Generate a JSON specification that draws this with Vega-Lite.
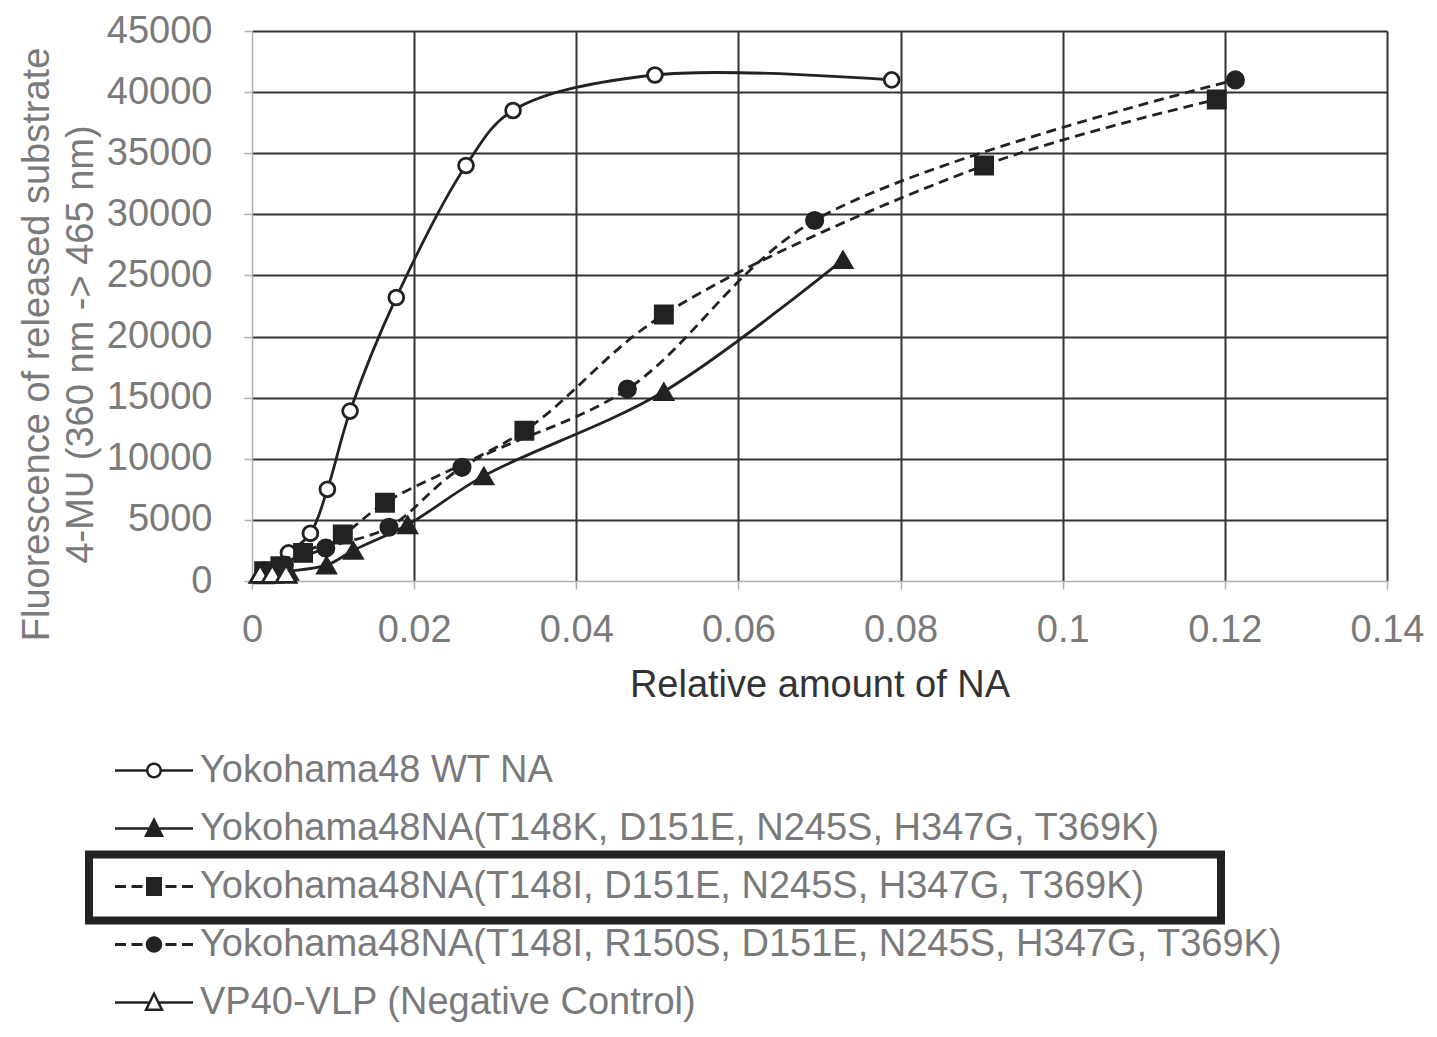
{
  "$schema": "https://vega.github.io/schema/vega-lite/v6.json",
  "width": 1135,
  "height": 550,
  "autosize": "none",
  "padding": {"left": 252, "top": 31, "right": 50, "bottom": 456},
  "background": "white",
  "config": {
    "view": {"stroke": null},
    "font": "Liberation Sans"
  },
  "data": {
    "values": [
      {"series": "Yokohama48 WT NA", "x": 0.0015, "y": 900},
      {"series": "Yokohama48 WT NA", "x": 0.0045, "y": 2300},
      {"series": "Yokohama48 WT NA", "x": 0.0072, "y": 3900},
      {"series": "Yokohama48 WT NA", "x": 0.0093, "y": 7500},
      {"series": "Yokohama48 WT NA", "x": 0.0121, "y": 13900},
      {"series": "Yokohama48 WT NA", "x": 0.0178, "y": 23200},
      {"series": "Yokohama48 WT NA", "x": 0.0264, "y": 34000},
      {"series": "Yokohama48 WT NA", "x": 0.0322, "y": 38500},
      {"series": "Yokohama48 WT NA", "x": 0.0497, "y": 41400},
      {"series": "Yokohama48 WT NA", "x": 0.0789, "y": 41000},

      {"series": "Yokohama48NA(T148K, D151E, N245S, H347G, T369K)", "x": 0.0015, "y": 500},
      {"series": "Yokohama48NA(T148K, D151E, N245S, H347G, T369K)", "x": 0.0045, "y": 800},
      {"series": "Yokohama48NA(T148K, D151E, N245S, H347G, T369K)", "x": 0.0092, "y": 1300},
      {"series": "Yokohama48NA(T148K, D151E, N245S, H347G, T369K)", "x": 0.0125, "y": 2500},
      {"series": "Yokohama48NA(T148K, D151E, N245S, H347G, T369K)", "x": 0.0192, "y": 4600},
      {"series": "Yokohama48NA(T148K, D151E, N245S, H347G, T369K)", "x": 0.0286, "y": 8600},
      {"series": "Yokohama48NA(T148K, D151E, N245S, H347G, T369K)", "x": 0.0508, "y": 15500},
      {"series": "Yokohama48NA(T148K, D151E, N245S, H347G, T369K)", "x": 0.0729, "y": 26300},

      {"series": "Yokohama48NA(T148I, D151E, N245S, H347G, T369K)", "x": 0.0015, "y": 800},
      {"series": "Yokohama48NA(T148I, D151E, N245S, H347G, T369K)", "x": 0.0035, "y": 1200},
      {"series": "Yokohama48NA(T148I, D151E, N245S, H347G, T369K)", "x": 0.0063, "y": 2300},
      {"series": "Yokohama48NA(T148I, D151E, N245S, H347G, T369K)", "x": 0.0112, "y": 3800},
      {"series": "Yokohama48NA(T148I, D151E, N245S, H347G, T369K)", "x": 0.0164, "y": 6400},
      {"series": "Yokohama48NA(T148I, D151E, N245S, H347G, T369K)", "x": 0.0336, "y": 12300},
      {"series": "Yokohama48NA(T148I, D151E, N245S, H347G, T369K)", "x": 0.0508, "y": 21800},
      {"series": "Yokohama48NA(T148I, D151E, N245S, H347G, T369K)", "x": 0.0903, "y": 34000},
      {"series": "Yokohama48NA(T148I, D151E, N245S, H347G, T369K)", "x": 0.119, "y": 39400},

      {"series": "Yokohama48NA(T148I, R150S, D151E, N245S, H347G, T369K)", "x": 0.0015, "y": 700},
      {"series": "Yokohama48NA(T148I, R150S, D151E, N245S, H347G, T369K)", "x": 0.004, "y": 1300},
      {"series": "Yokohama48NA(T148I, R150S, D151E, N245S, H347G, T369K)", "x": 0.0091, "y": 2700},
      {"series": "Yokohama48NA(T148I, R150S, D151E, N245S, H347G, T369K)", "x": 0.0169, "y": 4400},
      {"series": "Yokohama48NA(T148I, R150S, D151E, N245S, H347G, T369K)", "x": 0.0259, "y": 9300},
      {"series": "Yokohama48NA(T148I, R150S, D151E, N245S, H347G, T369K)", "x": 0.0463, "y": 15700},
      {"series": "Yokohama48NA(T148I, R150S, D151E, N245S, H347G, T369K)", "x": 0.0694, "y": 29500},
      {"series": "Yokohama48NA(T148I, R150S, D151E, N245S, H347G, T369K)", "x": 0.1213, "y": 41000},

      {"series": "VP40-VLP (Negative Control)", "x": 0.001, "y": 600},
      {"series": "VP40-VLP (Negative Control)", "x": 0.0025, "y": 600},
      {"series": "VP40-VLP (Negative Control)", "x": 0.0042, "y": 600}
    ]
  },
  "encoding": {
    "x": {
      "field": "x",
      "type": "quantitative",
      "scale": {"domain": [0, 0.14], "nice": false},
      "axis": {
        "title": "Relative amount of NA",
        "values": [0, 0.02, 0.04, 0.06, 0.08, 0.1, 0.12, 0.14],
        "format": "~g",
        "labelFont": "Liberation Sans",
        "labelFontSize": 38,
        "labelColor": "#7a7a7a",
        "labelPadding": 22,
        "labelFlush": false,
        "labelOverlap": false,
        "titleFont": "Liberation Sans",
        "titleFontSize": 38,
        "titleFontWeight": "normal",
        "titleColor": "#333333",
        "titlePadding": 17,
        "domainColor": "#b0b0b0",
        "domainWidth": 1.5,
        "tickColor": "#b0b0b0",
        "tickSize": 8,
        "tickWidth": 1.5,
        "grid": true,
        "gridColor": {"condition": {"test": "datum.value === 0", "value": "transparent"}, "value": "#333333"},
        "gridWidth": 2,
        "gridOpacity": 1
      }
    },
    "y": {
      "field": "y",
      "type": "quantitative",
      "scale": {"domain": [0, 45000], "nice": false},
      "axis": {
        "title": ["Fluorescence of released substrate", "4-MU (360 nm -> 465 nm)"],
        "values": [0, 5000, 10000, 15000, 20000, 25000, 30000, 35000, 40000, 45000],
        "format": "d",
        "labelFont": "Liberation Sans",
        "labelFontSize": 38,
        "labelColor": "#7a7a7a",
        "labelPadding": 32,
        "labelFlush": false,
        "labelOverlap": false,
        "titleFont": "Liberation Sans",
        "titleFontSize": 38,
        "titleFontWeight": "normal",
        "titleColor": "#7a7a7a",
        "titleLineHeight": 44,
        "titlePadding": 6,
        "titleY": 313,
        "domainColor": "#b0b0b0",
        "domainWidth": 1.5,
        "tickColor": "#b0b0b0",
        "tickSize": 8,
        "tickWidth": 1.5,
        "grid": true,
        "gridColor": {"condition": {"test": "datum.value === 0", "value": "transparent"}, "value": "#333333"},
        "gridWidth": 2,
        "gridOpacity": 1
      }
    }
  },
  "layer": [
    {
      "transform": [{"filter": {"field": "series", "oneOf": ["Yokohama48 WT NA", "Yokohama48NA(T148K, D151E, N245S, H347G, T369K)", "VP40-VLP (Negative Control)"]}}],
      "mark": {"type": "line", "interpolate": "catmull-rom", "strokeWidth": 2.8, "color": "#222222"},
      "encoding": {"detail": {"field": "series", "type": "nominal"}}
    },
    {
      "transform": [{"filter": {"field": "series", "oneOf": ["Yokohama48NA(T148I, D151E, N245S, H347G, T369K)", "Yokohama48NA(T148I, R150S, D151E, N245S, H347G, T369K)"]}}],
      "mark": {"type": "line", "interpolate": "catmull-rom", "strokeWidth": 2.8, "color": "#222222", "strokeDash": [10, 6]},
      "encoding": {"detail": {"field": "series", "type": "nominal"}}
    },
    {
      "transform": [{"filter": {"field": "series", "equal": "Yokohama48 WT NA"}}],
      "mark": {"type": "point", "shape": "circle", "size": 220, "filled": true, "fill": "#ffffff", "stroke": "#222222", "strokeWidth": 2.8, "opacity": 1}
    },
    {
      "transform": [{"filter": {"field": "series", "equal": "Yokohama48NA(T148K, D151E, N245S, H347G, T369K)"}}],
      "mark": {"type": "point", "shape": "triangle-up", "size": 400, "filled": true, "fill": "#222222", "stroke": "#222222", "strokeWidth": 1.5, "opacity": 1}
    },
    {
      "transform": [{"filter": {"field": "series", "equal": "Yokohama48NA(T148I, D151E, N245S, H347G, T369K)"}}],
      "mark": {"type": "point", "shape": "square", "size": 340, "filled": true, "fill": "#222222", "stroke": "#222222", "strokeWidth": 1.5, "opacity": 1}
    },
    {
      "transform": [{"filter": {"field": "series", "equal": "Yokohama48NA(T148I, R150S, D151E, N245S, H347G, T369K)"}}],
      "mark": {"type": "point", "shape": "circle", "size": 310, "filled": true, "fill": "#222222", "stroke": "#222222", "strokeWidth": 1.5, "opacity": 1}
    },
    {
      "transform": [{"filter": {"field": "series", "equal": "VP40-VLP (Negative Control)"}}],
      "mark": {"type": "point", "shape": "triangle-up", "size": 400, "filled": true, "fill": "#ffffff", "stroke": "#222222", "strokeWidth": 2.8, "opacity": 1}
    },
    {
      "mark": {"type": "point", "filled": true, "fill": "#222222", "opacity": 0},
      "encoding": {
        "shape": {
          "field": "series",
          "type": "nominal",
          "scale": {
            "domain": [
              "Yokohama48 WT NA",
              "Yokohama48NA(T148K, D151E, N245S, H347G, T369K)",
              "Yokohama48NA(T148I, D151E, N245S, H347G, T369K)",
              "Yokohama48NA(T148I, R150S, D151E, N245S, H347G, T369K)",
              "VP40-VLP (Negative Control)"
            ],
            "range": [
              "M0,-1.8M0,1.9M-1.95,-0.0625H-0.375V0.0625H-1.95ZM0.375,-0.0625H1.95V0.0625H0.375ZM0.4,0A0.4,0.4,0,1,1,-0.4,0A0.4,0.4,0,1,1,0.4,0ZM0.275,0A0.275,0.275,0,1,0,-0.275,0A0.275,0.275,0,1,0,0.275,0Z",
              "M0,-1.8M0,1.9M-1.95,-0.0625H1.95V0.0625H-1.95ZM0,-0.575L0.5,0.425L-0.5,0.425Z",
              "M-3.45,-1.8H53.55V1.9H-3.45ZM-3.05,-1.4V1.5H53.15V-1.4ZM-1.95,-0.075H-1.4V0.075H-1.95ZM-1.125,-0.075H-0.575V0.075H-1.125ZM0.575,-0.075H1.125V0.075H0.575ZM1.4,-0.075H1.95V0.075H1.4ZM-0.4,-0.475H0.4V0.475H-0.4Z",
              "M0,-1.8M0,1.9M-1.95,-0.075H-1.4V0.075H-1.95ZM-1.125,-0.075H-0.575V0.075H-1.125ZM0.575,-0.075H1.125V0.075H0.575ZM1.4,-0.075H1.95V0.075H1.4ZM0.4125,0A0.4125,0.4125,0,1,1,-0.4125,0A0.4125,0.4125,0,1,1,0.4125,0Z",
              "M0,-1.8M0,1.9M-1.95,-0.0625H-0.25V0.0625H-1.95ZM0.25,-0.0625H1.95V0.0625H0.25ZM0,-0.575L0.5,0.425L-0.5,0.425ZM0,-0.295L-0.2975,0.3L0.2975,0.3Z"
            ]
          },
          "legend": {
            "title": null,
            "orient": "none",
            "legendX": -118,
            "legendY": 719.5,
            "direction": "vertical",
            "columns": 1,
            "padding": 0,
            "rowPadding": -22,
            "symbolSize": 1600,
            "symbolOpacity": 1,
            "symbolStrokeWidth": 0,
            "symbolFillColor": "#222222",
            "labelFont": "Liberation Sans",
            "labelFontSize": 38,
            "labelColor": "#7a7a7a",
            "labelOffset": 26,
            "labelLimit": 2000
          }
        }
      }
    }
  ]
}
